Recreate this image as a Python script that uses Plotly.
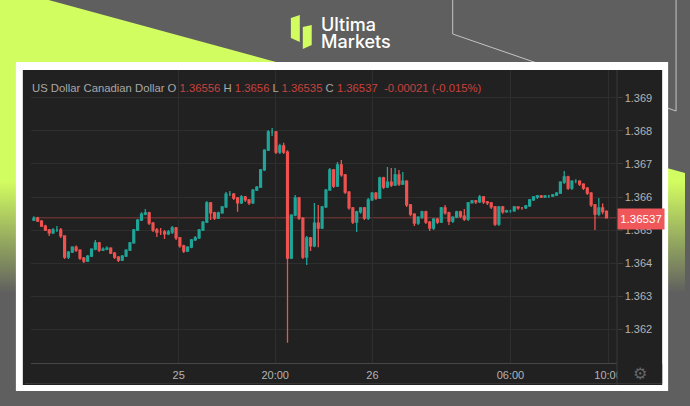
import plotly.graph_objects as go

# OHLC, one candle per slot
closes = [1.36536,1.36527,1.36512,1.36500,1.36491,1.36500,1.36500,1.36482,1.36418,1.36433,
1.36448,1.36439,1.36415,1.36406,1.36421,1.36442,1.36461,1.36439,1.36442,1.36445,
1.36430,1.36418,1.36409,1.36421,1.36439,1.36461,1.36500,1.36530,1.36548,1.36552,
1.36521,1.36500,1.36494,1.36494,1.36488,1.36494,1.36506,1.36476,1.36452,1.36436,
1.36448,1.36470,1.36476,1.36500,1.36524,1.36582,1.36552,1.36536,1.36552,1.36570,
1.36609,1.36609,1.36597,1.36582,1.36600,1.36591,1.36582,1.36621,1.36630,1.36682,
1.36742,1.36797,1.36797,1.36736,1.36755,1.36736,1.36415,1.36545,1.36597,1.36536,
1.36418,1.36476,1.36452,1.36521,1.36506,1.36570,1.36621,1.36682,1.36633,1.36697,
1.36667,1.36615,1.36567,1.36524,1.36555,1.36567,1.36536,1.36591,1.36612,1.36597,
1.36658,1.36630,1.36645,1.36636,1.36667,1.36639,1.36648,1.36576,1.36548,1.36521,
1.36539,1.36555,1.36524,1.36506,1.36533,1.36524,1.36567,1.36552,1.36527,1.36539,
1.36555,1.36542,1.36533,1.36582,1.36588,1.36585,1.36600,1.36585,1.36582,1.36570,
1.36518,1.36570,1.36555,1.36558,1.36558,1.36570,1.36567,1.36567,1.36573,1.36591,
1.36600,1.36603,1.36600,1.36603,1.36603,1.36606,1.36612,1.36645,1.36661,1.36627,
1.36648,1.36648,1.36639,1.36627,1.36612,1.36576,1.36548,1.36567,1.36556,1.36537]

opens = [1.36530,1.36536,1.36527,1.36512,1.36500,1.36491,1.36500,1.36500,1.36482,1.36418,
1.36433,1.36448,1.36439,1.36415,1.36406,1.36421,1.36442,1.36461,1.36439,1.36442,
1.36445,1.36430,1.36418,1.36409,1.36421,1.36439,1.36461,1.36500,1.36530,1.36548,
1.36552,1.36521,1.36500,1.36494,1.36494,1.36488,1.36494,1.36506,1.36476,1.36452,
1.36436,1.36448,1.36470,1.36476,1.36500,1.36524,1.36582,1.36552,1.36536,1.36552,
1.36570,1.36609,1.36609,1.36597,1.36582,1.36600,1.36591,1.36582,1.36621,1.36630,
1.36682,1.36742,1.36797,1.36797,1.36736,1.36755,1.36736,1.36415,1.36545,1.36597,
1.36536,1.36418,1.36476,1.36452,1.36521,1.36506,1.36570,1.36621,1.36682,1.36633,
1.36697,1.36667,1.36615,1.36567,1.36524,1.36555,1.36567,1.36536,1.36591,1.36612,
1.36597,1.36658,1.36630,1.36645,1.36636,1.36667,1.36639,1.36648,1.36576,1.36548,
1.36521,1.36539,1.36555,1.36524,1.36506,1.36533,1.36524,1.36567,1.36552,1.36527,
1.36539,1.36555,1.36542,1.36533,1.36582,1.36588,1.36585,1.36600,1.36585,1.36582,
1.36570,1.36518,1.36570,1.36555,1.36558,1.36558,1.36570,1.36567,1.36567,1.36573,
1.36591,1.36600,1.36603,1.36600,1.36603,1.36603,1.36606,1.36612,1.36645,1.36661,
1.36627,1.36648,1.36648,1.36639,1.36627,1.36612,1.36576,1.36548,1.36567,1.36556]

highs = [1.36542,1.36540,1.36530,1.36516,1.36503,1.36506,1.36512,1.36506,1.36484,1.36436,
1.36451,1.36453,1.36442,1.36418,1.36424,1.36445,1.36470,1.36464,1.36448,1.36451,
1.36448,1.36433,1.36421,1.36424,1.36442,1.36464,1.36503,1.36533,1.36554,1.36564,
1.36555,1.36524,1.36506,1.36506,1.36500,1.36500,1.36512,1.36509,1.36479,1.36455,
1.36451,1.36473,1.36482,1.36503,1.36527,1.36588,1.36585,1.36555,1.36555,1.36573,
1.36615,1.36618,1.36612,1.36600,1.36606,1.36603,1.36594,1.36624,1.36633,1.36685,
1.36745,1.36803,1.36809,1.36800,1.36761,1.36764,1.36742,1.36548,1.36606,1.36600,
1.36539,1.36482,1.36479,1.36582,1.36576,1.36573,1.36624,1.36688,1.36685,1.36706,
1.36712,1.36670,1.36618,1.36570,1.36558,1.36570,1.36570,1.36597,1.36615,1.36615,
1.36661,1.36661,1.36691,1.36688,1.36688,1.36682,1.36676,1.36651,1.36579,1.36551,
1.36542,1.36558,1.36558,1.36527,1.36536,1.36536,1.36570,1.36576,1.36555,1.36542,
1.36558,1.36558,1.36564,1.36585,1.36591,1.36591,1.36606,1.36603,1.36588,1.36585,
1.36573,1.36573,1.36573,1.36561,1.36561,1.36573,1.36570,1.36570,1.36576,1.36594,
1.36603,1.36606,1.36606,1.36606,1.36606,1.36609,1.36615,1.36648,1.36679,1.36664,
1.36651,1.36654,1.36651,1.36642,1.36630,1.36615,1.36579,1.36597,1.36580,1.36560]

lows = [1.36527,1.36524,1.36509,1.36497,1.36482,1.36488,1.36494,1.36476,1.36412,1.36412,
1.36430,1.36433,1.36409,1.36400,1.36403,1.36418,1.36439,1.36433,1.36436,1.36439,
1.36427,1.36412,1.36403,1.36406,1.36418,1.36436,1.36458,1.36497,1.36527,1.36545,
1.36515,1.36494,1.36479,1.36485,1.36473,1.36485,1.36488,1.36470,1.36446,1.36430,
1.36433,1.36445,1.36467,1.36473,1.36497,1.36521,1.36530,1.36530,1.36533,1.36549,
1.36567,1.36603,1.36591,1.36555,1.36579,1.36585,1.36576,1.36579,1.36618,1.36627,
1.36679,1.36739,1.36785,1.36730,1.36730,1.36730,1.36158,1.36412,1.36542,1.36530,
1.36412,1.36394,1.36436,1.36448,1.36448,1.36503,1.36567,1.36621,1.36627,1.36630,
1.36661,1.36609,1.36561,1.36518,1.36494,1.36549,1.36530,1.36530,1.36588,1.36591,
1.36594,1.36624,1.36627,1.36630,1.36633,1.36633,1.36636,1.36570,1.36542,1.36512,
1.36515,1.36533,1.36518,1.36497,1.36500,1.36518,1.36521,1.36546,1.36515,1.36521,
1.36536,1.36536,1.36527,1.36527,1.36582,1.36579,1.36582,1.36579,1.36576,1.36564,
1.36512,1.36512,1.36549,1.36552,1.36552,1.36555,1.36561,1.36561,1.36564,1.36570,
1.36588,1.36594,1.36597,1.36597,1.36597,1.36600,1.36603,1.36609,1.36639,1.36621,
1.36621,1.36642,1.36633,1.36621,1.36606,1.36570,1.36500,1.36542,1.36548,1.36535]

y_ticks = [1.369, 1.368, 1.367, 1.366, 1.365, 1.364, 1.363, 1.362]
y_tick_labels = ["1.369", "1.368", "1.367", "1.366", "1.365", "1.364", "1.363", "1.362"]
x_ticks = [37.7, 62.8, 88.1, 124.0, 149.4]
x_tick_labels = ["25", "20:00", "26", "06:00", "10:00"]
last_price = 1.36537

W, H = 690, 406
LIME = "#d2fd60"
GRAY = "#5f5f5f"
UP = "#1fa598"
DOWN = "#ef5350"


def px(x):
    return x / W


def py(y):
    return 1 - y / H


def poly(points):
    return "M " + " L ".join(f"{px(x):.5f} {py(y):.5f}" for x, y in points) + " Z"


def pline(points):
    return "M " + " L ".join(f"{px(x):.5f} {py(y):.5f}" for x, y in points)


def rect(x0, y0, x1, y1, color, layer="below"):
    return dict(type="rect", xref="paper", yref="paper", x0=px(x0), x1=px(x1), y0=py(y0), y1=py(y1),
                fillcolor=color, line_width=0, layer=layer)


shapes = []
# lime corner
shapes.append(dict(type="path", xref="paper", yref="paper", layer="below", fillcolor=LIME, line_width=0,
                   path=poly([(0, 0), (49, 0), (278, 62), (278, 75), (0, 75)])))
shapes.append(rect(0, 70, 20, 182, LIME))
shapes.append(dict(type="path", xref="paper", yref="paper", layer="below", fillcolor=LIME, line_width=0,
                   path=poly([(668, 167), (690, 173), (690, 182), (668, 182)])))
# fading strips at both sides
c0 = (0xd2, 0xfd, 0x60)
c1 = (0x5f, 0x5f, 0x5f)
for y in range(180, 292, 2):
    t = (y - 180) / 112
    col = "rgb(%d,%d,%d)" % tuple(round(a + (b - a) * t) for a, b in zip(c0, c1))
    shapes.append(rect(0, y, 20, y + 2, col))
    shapes.append(rect(668, y, 690, y + 2, col))
# thin outline at top right
shapes.append(dict(type="path", xref="paper", yref="paper", layer="below", line=dict(color="#c4c4c4", width=1),
                   path=pline([(456, 0), (456, 34), (681, 111), (681, 0)])))
# logo mark
shapes.append(dict(type="path", xref="paper", yref="paper", layer="below", fillcolor=LIME, line_width=0,
                   path=poly([(293, 18), (302, 15), (302, 42), (293, 38)])))
shapes.append(dict(type="path", xref="paper", yref="paper", layer="below", fillcolor=LIME, line_width=0,
                   path=poly([(305, 27), (314, 25), (314, 45), (305, 49)])))
# white frame and dark panel
shapes.append(rect(16, 62, 673, 391, "#ffffff"))
shapes.append(rect(23, 70, 667, 385, "#212121"))
# cover for the clipped time label, price column rules
shapes.append(rect(622, 364, 667, 383, "#212121", layer="above"))
shapes.append(dict(type="line", xref="paper", yref="paper", x0=px(621.5), x1=px(621.5), y0=py(70), y1=py(385),
                   line=dict(color="#3a3a3a", width=1), layer="above"))
shapes.append(dict(type="line", xref="paper", yref="paper", x0=px(25), x1=px(667), y0=py(383.5), y1=py(383.5),
                   line=dict(color="#363636", width=1), layer="above"))
# last price rule
shapes.append(dict(type="line", xref="x", yref="y", x0=0, x1=152, y0=last_price, y1=last_price,
                   line=dict(color="rgba(239,83,80,0.32)", width=1.5), layer="below"))

grey = "#a8a8a8"
red = "#c8423f"
legend_text = (
    f'<span style="color:{grey}">US Dollar Canadian Dollar O </span><span style="color:{red}">1.36556 </span>'
    f'<span style="color:{grey}">H </span><span style="color:{red}">1.3656 </span>'
    f'<span style="color:{grey}">L </span><span style="color:{red}">1.36535 </span>'
    f'<span style="color:{grey}">C </span><span style="color:{red}">1.36537 &nbsp;-0.00021 (-0.015%)</span>'
)

annotations = [
    dict(text=legend_text, xref="paper", yref="paper", x=px(31), y=py(88), xanchor="left", yanchor="middle",
         showarrow=False, borderpad=0, font=dict(family="Liberation Sans", size=11.3, color=grey)),
    dict(text="1.36537", xref="paper", yref="y", x=px(621.5), y=last_price, yshift=-1.5, xanchor="left", yanchor="middle",
         showarrow=False, width=46, height=20, bgcolor="#f0575a", borderpad=0,
         font=dict(family="Liberation Sans", size=11.5, color="#ffffff")),
    dict(text="Ultima", xref="paper", yref="paper", x=px(322), y=py(24), xanchor="left", yanchor="middle",
         showarrow=False, borderpad=0, font=dict(family="Inter", size=18, color="#ffffff", weight=500)),
    dict(text="Markets", xref="paper", yref="paper", x=px(322), y=py(41), xanchor="left", yanchor="middle",
         showarrow=False, borderpad=0, font=dict(family="Inter", size=18, color="#ffffff", weight=500)),
    dict(text="\u2699", xref="paper", yref="paper", x=px(645), y=py(373), xanchor="center", yanchor="middle",
         showarrow=False, font=dict(family="DejaVu Sans", size=16, color="#666666")),
]

fig = go.Figure(go.Candlestick(
    x=list(range(len(closes))), open=opens, high=highs, low=lows, close=closes,
    whiskerwidth=0,
    increasing=dict(line=dict(color=UP, width=1.3), fillcolor=UP),
    decreasing=dict(line=dict(color=DOWN, width=1.3), fillcolor=DOWN),
))

fig.update_layout(
    width=W, height=H, margin=dict(l=0, r=0, t=0, b=0), autosize=False,
    paper_bgcolor=GRAY, plot_bgcolor="rgba(0,0,0,0)", showlegend=False,
    shapes=shapes, annotations=annotations,
    font=dict(family="Liberation Sans", size=11, color="#b4b4b4"),
    xaxis=dict(domain=[px(31), px(621)], range=[-0.8, 151.6], rangeslider=dict(visible=False),
               tickmode="array", tickvals=x_ticks, ticktext=x_tick_labels, showgrid=True, gridcolor="#2e2e2e",
               gridwidth=1, zeroline=False, showline=True, linecolor="#474747", linewidth=1,
               ticks="outside", ticklen=2, tickcolor="rgba(0,0,0,0)", tickfont=dict(size=11, color="#b4b4b4")),
    yaxis=dict(domain=[py(363), py(70)], range=[1.36097, 1.369848], side="right", anchor="x",
               tickmode="array", tickvals=y_ticks, ticktext=y_tick_labels, showgrid=True, gridcolor="#2e2e2e",
               gridwidth=1, zeroline=False, showline=False, ticks="outside", ticklen=5, tickcolor="#3a3a3a",
               tickfont=dict(size=11, color="#b4b4b4")),
)

fig.write_html("out.html", config=dict(displayModeBar=False),
               post_script="document.body.style.margin='0';document.body.style.overflow='hidden';")
